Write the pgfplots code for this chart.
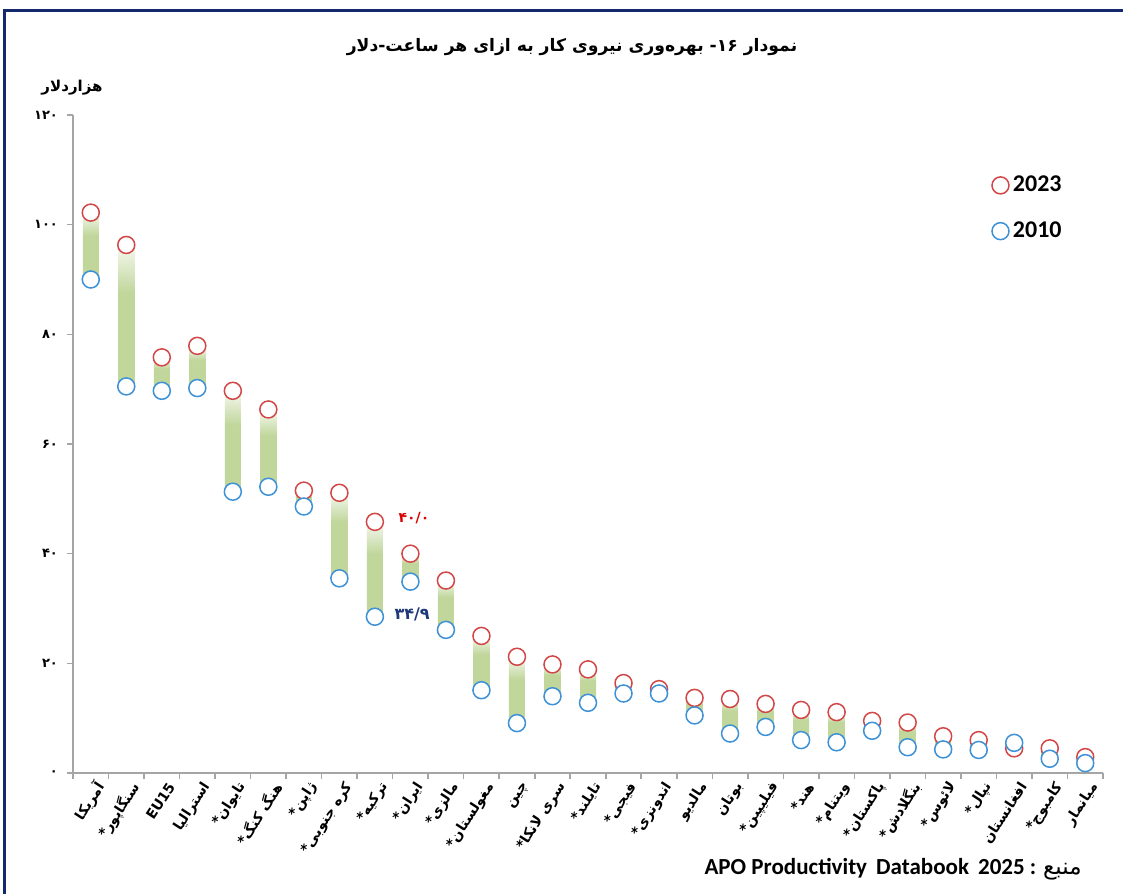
\documentclass[border=0pt]{standalone}
\usepackage{pgfplots}
\pgfplotsset{compat=1.18}
\usepackage{pgfplotstable}
\usepackage{fontspec}
\setmainfont{Carlito}
\newfontfamily\fa[Script=Arabic]{DejaVu Sans}
\TeXXeTstate=1
\definecolor{cred}{RGB}{210,70,70}
\definecolor{cblue}{RGB}{60,145,215}
\definecolor{cgreen}{RGB}{192,214,155}
\definecolor{navy}{RGB}{20,40,110}
\definecolor{axgray}{RGB}{165,165,165}
\definecolor{lblblue}{RGB}{31,56,120}
\pgfdeclareverticalshading{barshade}{100bp}{color(0bp)=(cgreen); color(25bp)=(cgreen); color(58bp)=(cgreen); color(75bp)=(cgreen!15!white); color(100bp)=(cgreen!15!white)}

\pgfplotstableread{
x v23 v10 base diff
0 102.2 90.0 90.0 12.2
1 96.3 70.5 70.5 25.8
2 75.8 69.7 69.7 6.1
3 77.9 70.2 70.2 7.7
4 69.7 51.3 51.3 18.4
5 66.3 52.2 52.2 14.1
6 51.5 48.6 48.6 2.9
7 51.1 35.5 35.5 15.6
8 45.8 28.5 28.5 17.3
9 40.0 34.9 34.9 5.1
10 35.1 26.1 26.1 9.0
11 25.0 15.1 15.1 9.9
12 21.2 9.1 9.1 12.1
13 19.8 14.0 14.0 5.8
14 18.9 12.8 12.8 6.1
15 16.4 14.5 14.5 1.9
16 15.3 14.5 14.5 0.8
17 13.7 10.5 10.5 3.2
18 13.5 7.2 7.2 6.3
19 12.6 8.4 8.4 4.2
20 11.5 6.0 6.0 5.5
21 11.1 5.6 5.6 5.5
22 9.5 7.7 7.7 1.8
23 9.2 4.7 4.7 4.5
24 6.7 4.3 4.3 2.4
25 6.0 4.2 4.2 1.8
26 4.5 5.5 4.5 1.0
27 4.5 2.6 2.6 1.9
28 2.9 1.8 1.8 1.1
}\data

\begin{document}
\begin{tikzpicture}
\path[use as bounding box] (0,0) rectangle (561.5pt,447pt);
\draw[navy, line width=1.5pt] (2.25pt,0) -- (2.25pt,441.5pt) -- (561.5pt,441.5pt);

\begin{axis}[
  at={(36.5pt,60.5pt)}, anchor=south west,
  scale only axis, width=515pt, height=329pt,
  xmin=-0.5, xmax=28.5, ymin=0, ymax=120,
  axis x line*=bottom, axis y line*=left,
  axis line style={axgray, line width=0.8pt},
  ytick={0,20,...,120},
  yticklabels={۰,۲۰,۴۰,۶۰,۸۰,۱۰۰,۱۲۰},
  yticklabel style={font=\fa\bfseries\fontsize{6.5}{7}\selectfont, xshift=-1pt},
  xtick={0,...,28},
  xticklabels={{\beginR آمریکا\endR},{\beginR سنگاپور*\endR},{EU15},{\beginR استرالیا\endR},{\beginR تایوان*\endR},{\beginR هنگ کنگ*\endR},{\beginR ژاپن*\endR},{\beginR کره جنوبی*\endR},{\beginR ترکیه*\endR},{\beginR ایران*\endR},{\beginR مالزی*\endR},{\beginR مغولستان*\endR},{\beginR چین\endR},{\beginR سری لانکا*\endR},{\beginR تایلند*\endR},{\beginR فیجی*\endR},{\beginR اندونزی*\endR},{\beginR مالدیو\endR},{\beginR بوتان\endR},{\beginR فیلیپین*\endR},{\beginR هند*\endR},{\beginR ویتنام*\endR},{\beginR پاکستان*\endR},{\beginR بنگلادش*\endR},{\beginR لائوس*\endR},{\beginR نپال*\endR},{\beginR افغانستان\endR},{\beginR کامبوج*\endR},{\beginR میانمار\endR}},
  xticklabel style={font=\fa\bfseries\fontsize{7}{8}\selectfont, rotate=57, anchor=east, xshift=4pt, yshift=-5.5pt},
  major x tick style={draw=none},
  minor xtick={-0.5,0.5,...,28.5},
  tick style={axgray, line width=0.8pt},
  tick align=outside,
  major tick length=3pt, minor tick length=3pt,
]
\addplot[scatter, only marks, mark=*, mark size=0.1pt, draw=none, fill=none,
  mark options={draw=none, fill=none},
  scatter/use mapped color={draw=none, fill=none},
  visualization depends on={\thisrow{diff} \as \barh},
  scatter/@pre marker code/.code={\pgfmathsetmacro\hh{\barh*2.741667}\path[draw=none, shading=barshade] (-4pt,0pt) rectangle (4pt,\hh pt);},
  scatter/@post marker code/.code={}
] table[x=x,y=base]{\data};
\end{axis}

\begin{axis}[
  at={(36.5pt,60.5pt)}, anchor=south west,
  scale only axis, width=515pt, height=329pt,
  xmin=-0.5, xmax=28.5, ymin=0, ymax=120,
  hide axis, clip=false,
  legend style={at={(0.886,0.92)}, anchor=north west, draw=none, fill=none,
    font=\bfseries\fontsize{12}{14}\selectfont, row sep=9.5pt},
  legend cell align=left,
]
\addplot[only marks, mark=*, mark size=4.25pt, draw=cred, fill=white, line width=0.75pt] table[x=x,y=v23]{\data};
\addlegendentry{2023}
\addplot[only marks, mark=*, mark size=4.25pt, draw=cblue, fill=white, line width=0.75pt] table[x=x,y=v10]{\data};
\addlegendentry{2010}
\node[font=\fa\bfseries\fontsize{7}{8}\selectfont, text=red!85!black] at (axis cs:9.1,46.5) {۴۰/۰};
\node[font=\fa\bfseries\fontsize{8}{9}\selectfont, text=lblblue] at (axis cs:9.05,29.0) {۳۴/۹};
\end{axis}

\node[font=\fa\bfseries\fontsize{8.6}{11}\selectfont] at (286pt,423.5pt) {\beginR نمودار ۱۶- بهره‌وری نیروی کار به ازای هر ساعت-دلار\endR};
\node[font=\fa\bfseries\fontsize{7.5}{8}\selectfont] at (36pt,403pt) {هزاردلار};
\node[anchor=east, font=\bfseries\fontsize{11.5}{13}\selectfont, inner sep=0pt] at (541pt,12.5pt) {APO Productivity\, Databook\, 2025 : {\fa\mdseries منبع}};
\end{tikzpicture}
\end{document}
